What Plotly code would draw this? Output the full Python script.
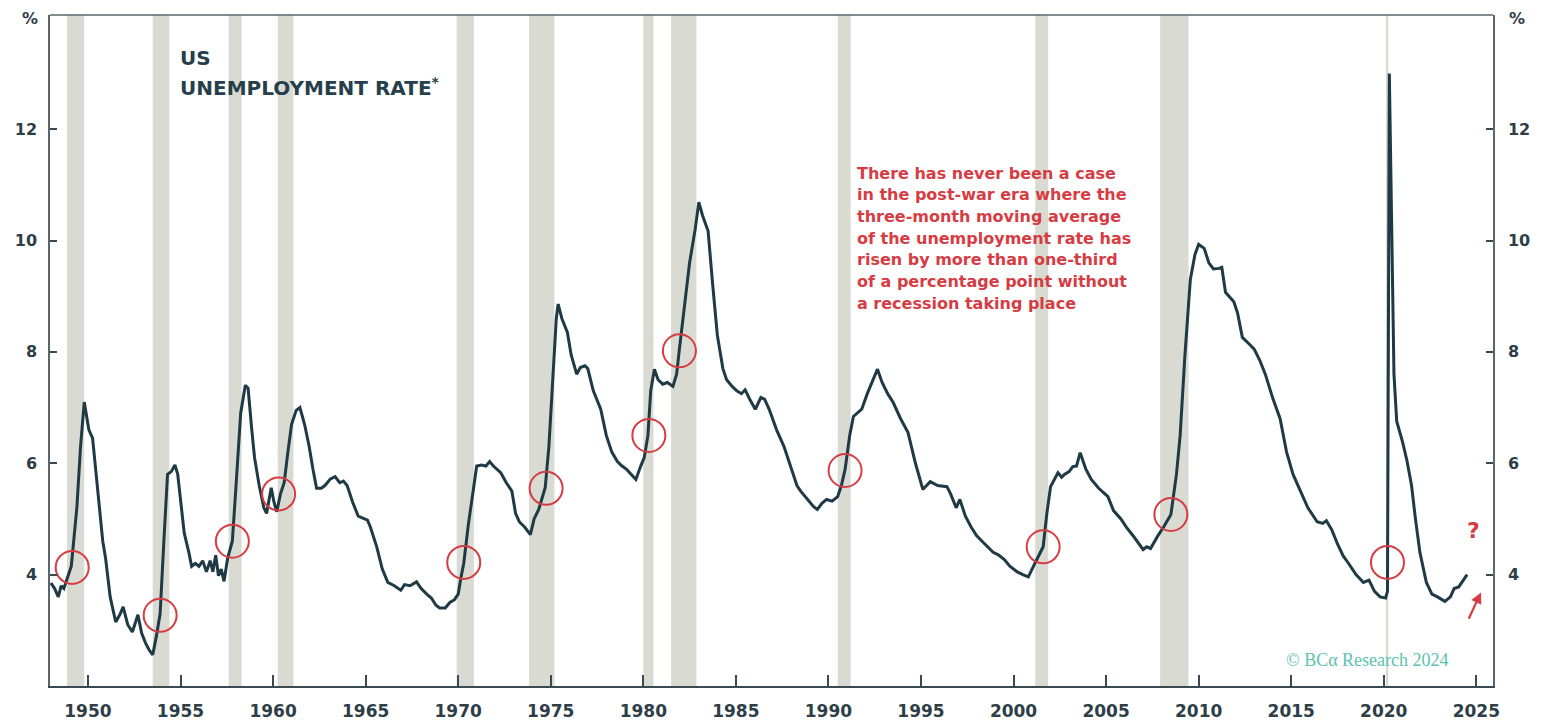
import plotly.graph_objects as go

# ---------------- data ----------------
years = [
    1948.0, 1948.2, 1948.4, 1948.55, 1948.7, 1948.85, 1949.1, 1949.4, 1949.6, 1949.8, 1949.9,
    1950.05, 1950.25, 1950.5, 1950.8, 1950.95, 1951.2, 1951.5, 1951.75, 1951.9, 1952.15, 1952.4,
    1952.7, 1952.9, 1953.1, 1953.3, 1953.5, 1953.7, 1953.9, 1954.1, 1954.3, 1954.5, 1954.7,
    1954.85, 1955.0, 1955.2, 1955.45, 1955.6, 1955.8, 1956.0, 1956.2, 1956.4, 1956.6, 1956.75,
    1956.9, 1957.05, 1957.2, 1957.35, 1957.55, 1957.8, 1958.0, 1958.25, 1958.5, 1958.65, 1958.85,
    1959.0, 1959.25, 1959.5, 1959.65, 1959.8, 1959.9, 1960.05, 1960.2, 1960.4, 1960.6, 1960.8,
    1961.0, 1961.25, 1961.45, 1961.7, 1961.95, 1962.15, 1962.35, 1962.6, 1962.8, 1963.1, 1963.35,
    1963.6, 1963.8, 1964.0, 1964.3, 1964.6, 1964.9, 1965.1, 1965.25, 1965.6, 1965.9, 1966.2,
    1966.55, 1966.9, 1967.1, 1967.4, 1967.75, 1968.0, 1968.3, 1968.55, 1968.8, 1969.0, 1969.3,
    1969.55, 1969.8, 1970.0, 1970.15, 1970.3, 1970.55, 1970.8, 1971.0, 1971.25, 1971.5, 1971.7,
    1971.9, 1972.3, 1972.6, 1972.9, 1973.1, 1973.3, 1973.6, 1973.9, 1974.1, 1974.35, 1974.7,
    1974.9, 1975.1, 1975.3, 1975.4, 1975.6, 1975.9, 1976.1, 1976.4, 1976.6, 1976.85, 1977.0,
    1977.3, 1977.7, 1978.0, 1978.3, 1978.6, 1978.85, 1979.1, 1979.35, 1979.6, 1979.85, 1980.05,
    1980.25, 1980.4, 1980.6, 1980.8, 1981.05, 1981.3, 1981.6, 1981.8, 1981.95, 1982.2, 1982.5,
    1982.8, 1983.0, 1983.2, 1983.5, 1983.75, 1984.0, 1984.3, 1984.5, 1984.8, 1985.05, 1985.3,
    1985.5, 1985.75, 1986.05, 1986.35, 1986.55, 1986.8, 1987.2, 1987.6, 1988.0, 1988.3, 1988.5,
    1988.9, 1989.2, 1989.4, 1989.65, 1989.9, 1990.2, 1990.5, 1990.7, 1990.9, 1991.15, 1991.35,
    1991.6, 1991.8, 1992.1, 1992.4, 1992.65, 1992.9, 1993.2, 1993.5, 1993.9, 1994.3, 1994.7,
    1995.1, 1995.35, 1995.5, 1995.9, 1996.4, 1996.6, 1996.9, 1997.1, 1997.4, 1997.7, 1998.0,
    1998.3, 1998.6, 1998.9, 1999.2, 1999.5, 1999.8, 2000.2, 2000.5, 2000.8, 2001.0, 2001.3,
    2001.6, 2001.8, 2002.0, 2002.4, 2002.6, 2002.75, 2003.0, 2003.2, 2003.4, 2003.6, 2003.9,
    2004.2, 2004.6, 2005.1, 2005.4, 2005.8, 2006.1, 2006.5, 2007.0, 2007.2, 2007.4, 2007.8,
    2008.1, 2008.5, 2008.8, 2009.0, 2009.25, 2009.55, 2009.8, 2010.0, 2010.3, 2010.55, 2010.8,
    2011.1, 2011.25, 2011.45, 2011.9, 2012.1, 2012.36, 2012.7, 2013.0, 2013.3, 2013.6, 2014.0,
    2014.4, 2014.75, 2015.1, 2015.5, 2015.9, 2016.4, 2016.7, 2016.9, 2017.2, 2017.5, 2017.8,
    2018.1, 2018.5, 2018.9, 2019.2, 2019.5, 2019.8, 2020.1, 2020.2, 2020.3, 2020.4, 2020.55,
    2020.7, 2021.0, 2021.25, 2021.5, 2021.7, 2021.95, 2022.3, 2022.6, 2022.9, 2023.3, 2023.6,
    2023.8, 2024.05, 2024.3, 2024.5,
]
unemployment = [
    3.85, 3.75, 3.6, 3.8, 3.75, 3.9, 4.15, 5.2, 6.3, 7.1, 6.9,
    6.6, 6.45, 5.6, 4.6, 4.3, 3.6, 3.15, 3.3, 3.42, 3.1, 2.97,
    3.28, 2.95, 2.78, 2.65, 2.56, 2.9, 3.3, 4.6, 5.8, 5.85, 5.97,
    5.8, 5.3, 4.75, 4.4, 4.15, 4.2, 4.15, 4.25, 4.05, 4.25, 4.05,
    4.35, 3.98, 4.1, 3.88, 4.3, 4.6, 5.6, 6.9, 7.4, 7.35, 6.6,
    6.1, 5.6, 5.2, 5.1, 5.4, 5.56, 5.3, 5.13, 5.45, 5.65, 6.2,
    6.7, 6.95, 7.0, 6.7, 6.3, 5.9, 5.55, 5.55, 5.6, 5.72, 5.76,
    5.65, 5.68, 5.6, 5.3, 5.05, 5.0, 4.98, 4.86, 4.5, 4.1, 3.86,
    3.8, 3.72, 3.82, 3.8, 3.87, 3.75, 3.65, 3.58, 3.45, 3.4, 3.4,
    3.5, 3.55, 3.65, 3.95, 4.2, 4.9, 5.5, 5.95, 5.97, 5.95, 6.03,
    5.95, 5.83, 5.65, 5.5, 5.1, 4.95, 4.85, 4.72, 5.0, 5.17, 5.56,
    6.3, 7.4, 8.6, 8.86, 8.6, 8.35, 7.95, 7.6, 7.72, 7.75, 7.7,
    7.3, 6.97, 6.5, 6.2, 6.03, 5.95, 5.89, 5.8, 5.71, 5.94, 6.1,
    6.5, 7.3, 7.69, 7.5, 7.42, 7.45, 7.38, 7.6, 8.05, 8.8, 9.6,
    10.2, 10.69, 10.45, 10.17, 9.2, 8.3, 7.7, 7.5, 7.38, 7.3, 7.25,
    7.32, 7.15, 6.97, 7.18, 7.15, 6.97, 6.6, 6.3, 5.9, 5.6, 5.5,
    5.35, 5.22, 5.17, 5.28, 5.35, 5.32, 5.4, 5.6, 5.89, 6.5, 6.84,
    6.92, 6.97, 7.25, 7.5, 7.69, 7.45, 7.25, 7.09, 6.8, 6.55, 6.0,
    5.53, 5.62, 5.67, 5.6, 5.58, 5.45, 5.2, 5.35, 5.05, 4.86, 4.7,
    4.6, 4.5, 4.4, 4.35, 4.27, 4.15, 4.05, 4.0, 3.96, 4.1, 4.3,
    4.5, 5.1, 5.58, 5.83, 5.75, 5.8, 5.85, 5.94, 5.95, 6.19, 5.9,
    5.71, 5.55, 5.4, 5.15, 5.0, 4.85, 4.68, 4.45, 4.5, 4.47, 4.7,
    4.85, 5.08, 5.8, 6.5, 7.9, 9.3, 9.75, 9.93, 9.86, 9.6, 9.49,
    9.5, 9.52, 9.07, 8.9, 8.7, 8.26, 8.15, 8.05, 7.85, 7.6, 7.17,
    6.8, 6.2, 5.8, 5.5, 5.2, 4.95, 4.92, 4.97, 4.8, 4.55, 4.34,
    4.2, 4.0, 3.86, 3.9, 3.7, 3.6, 3.58, 3.7, 13.0, 10.5, 7.6,
    6.75, 6.4, 6.05, 5.6, 5.03, 4.4, 3.86, 3.65, 3.6, 3.52, 3.6,
    3.75, 3.78, 3.9, 4.0,
]

# Recessions (start, end) in decimal years
recession_start = [1948.87, 1953.5, 1957.6, 1960.25, 1969.92, 1973.83, 1980.0, 1981.5, 1990.5, 2001.17, 2007.92, 2020.12]
recession_end = [1949.8, 1954.4, 1958.3, 1961.1, 1970.85, 1975.2, 1980.55, 1982.87, 1991.2, 2001.87, 2009.45, 2020.24]

# Red-circled points where the 3m MA rose by > 1/3 pp
circle_years = [1949.15, 1953.9, 1957.8, 1960.3, 1970.3, 1974.75, 1980.3, 1981.95, 1990.9, 2001.6, 2008.5, 2020.2]
circle_values = [4.13, 3.27, 4.6, 5.45, 4.22, 5.55, 6.5, 8.02, 5.87, 4.5, 5.08, 4.22]

x_ticks = [1950, 1955, 1960, 1965, 1970, 1975, 1980, 1985, 1990, 1995, 2000, 2005, 2010, 2015, 2020, 2025]
y_ticks = [4, 6, 8, 10, 12]

note_lines = [
    "There has never been a case",
    "in the post-war era where the",
    "three-month moving average",
    "of the unemployment rate has",
    "risen by more than one-third",
    "of a percentage point without",
    "a recession taking place",
]

# ---------------- styling ----------------
DARK = "#1f3a45"
AXIS_TXT = "#2e3e47"
RED = "#d63c44"
SHADE = "#d9dad1"
X_RANGE = [1947.95, 2025.9]
Y_RANGE = [2.0, 14.05]

# page body has an 8px margin: plot area lands at x 50..1493, y 15..686 of the window
PL, PR, PT, PB = 50, 1493, 15, 686


def xp(px):
    return (px - PL) / (PR - PL)


def yp(py):
    return (PB - py) / (PB - PT)


fig = go.Figure()

for s, e in zip(recession_start, recession_end):
    fig.add_vrect(x0=s, x1=e, fillcolor=SHADE, opacity=1, line_width=0, layer="below")

fig.add_trace(go.Scatter(
    x=years, y=unemployment, mode="lines",
    line=dict(color=DARK, width=3.0), hoverinfo="skip", showlegend=False,
))

fig.add_trace(go.Scatter(
    x=circle_years, y=circle_values, mode="markers",
    marker=dict(symbol="circle-open", size=33, color=RED, line=dict(color=RED, width=2)),
    hoverinfo="skip", showlegend=False,
))

# invisible trace to anchor the right axis
fig.add_trace(go.Scatter(x=[X_RANGE[0]], y=[Y_RANGE[0]], yaxis="y2", mode="markers",
                         marker=dict(opacity=0), hoverinfo="skip", showlegend=False))

tickfont = dict(family="DejaVu Sans, sans-serif", size=16, color=AXIS_TXT, weight="bold")

fig.update_layout(
    width=1536, height=717,
    margin=dict(l=42, r=51, t=7, b=39, autoexpand=False),
    paper_bgcolor="white", plot_bgcolor="white",
    xaxis=dict(
        range=X_RANGE, tickvals=x_ticks, ticks="inside", ticklen=11, tickwidth=2,
        tickcolor="#3a4a52", showgrid=False, zeroline=False,
        showline=True, linecolor="#3a4a52", linewidth=2, mirror=False,
        tickfont=dict(tickfont, size=17), ticklabelstandoff=9, automargin=False,
    ),
    yaxis=dict(
        range=Y_RANGE, tickvals=y_ticks, ticks="inside", ticklen=7, tickwidth=1.5,
        tickcolor="#3a4a52", showgrid=False, zeroline=False,
        showline=True, linecolor="#5a666c", linewidth=1.5,
        tickfont=tickfont, ticklabelstandoff=8, automargin=False,
    ),
    yaxis2=dict(
        range=Y_RANGE, tickvals=y_ticks, ticks="inside", ticklen=7, tickwidth=1.5,
        tickcolor="#3a4a52", showgrid=False, zeroline=False, overlaying="y", side="right",
        showline=True, linecolor="#5a666c", linewidth=1.5,
        tickfont=tickfont, ticklabelstandoff=10, automargin=False,
    ),
)

# top border
fig.add_shape(type="line", xref="paper", yref="paper", x0=0, x1=1, y0=1, y1=1,
              line=dict(color="#5a666c", width=1.5))

# "%" unit labels
for px in (30, 1517):
    fig.add_annotation(x=xp(px), y=yp(19), xref="paper", yref="paper", text="%",
                       showarrow=False, xanchor="center", yanchor="middle",
                       font=dict(family="DejaVu Sans, sans-serif", size=16, color=AXIS_TXT, weight="bold"))

# Title
title_font = dict(family="DejaVu Sans, sans-serif", size=20, color="#263f4b", weight="bold")
fig.add_annotation(x=xp(178), y=yp(58), xref="paper", yref="paper", text="US",
                   showarrow=False, xanchor="left", yanchor="middle", font=title_font)
fig.add_annotation(x=xp(178), y=yp(87), xref="paper", yref="paper",
                   text="UNEMPLOYMENT RATE<sup>*</sup>",
                   showarrow=False, xanchor="left", yanchor="middle", font=title_font)

# Red note
for i, line in enumerate(note_lines):
    fig.add_annotation(x=xp(855), y=yp(173 + i * 21.7), xref="paper", yref="paper",
                       text=line, showarrow=False, xanchor="left", yanchor="middle",
                       font=dict(family="DejaVu Sans, sans-serif", size=16, color=RED, weight="bold"))

# Question mark and arrow
fig.add_annotation(x=xp(1473), y=yp(530), xref="paper", yref="paper", text="?", showarrow=False,
                   xanchor="center", yanchor="middle",
                   font=dict(family="DejaVu Sans, sans-serif", size=22, color=RED, weight="bold"))
fig.add_annotation(x=2025.25, y=3.68, ax=2024.55, ay=3.18, axref="x", ayref="y",
                   text="", showarrow=True, arrowhead=2, arrowsize=1, arrowwidth=2.2, arrowcolor=RED)

# Copyright
fig.add_annotation(x=xp(1367), y=yp(660), xref="paper", yref="paper",
                   text="© BCα Research 2024", showarrow=False, xanchor="center", yanchor="middle",
                   font=dict(family="Liberation Serif, DejaVu Serif, serif", size=18, color="#5cc2ad"))

fig.write_html("out.html")
